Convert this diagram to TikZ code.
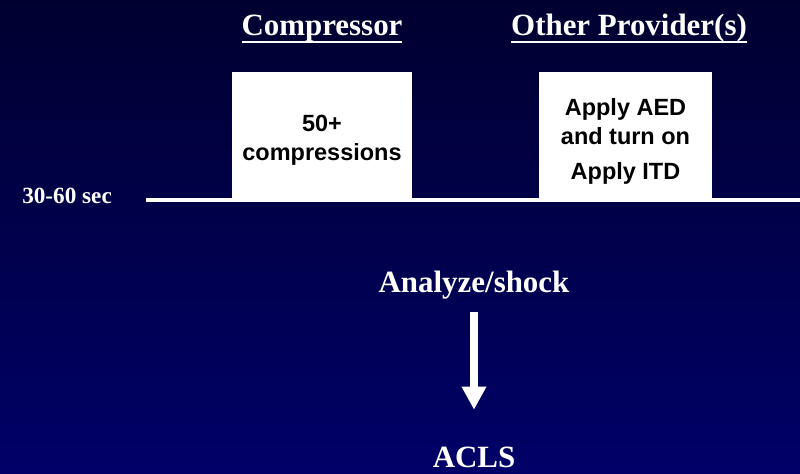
\documentclass[tikz,border=0pt]{standalone}
\usepackage{fontspec}
\setmainfont{Liberation Serif}
\newfontfamily\boxfont{Liberation Sans}
\usetikzlibrary{arrows.meta, positioning, calc}
\definecolor{bgtop}{HTML}{000030}
\definecolor{bgmid}{HTML}{000042}
\definecolor{bgbot}{HTML}{000068}
\definecolor{boxtext}{HTML}{000000}

\newcommand{\ulhead}[1]{\vtop{\hbox{#1}\kern-1.4pt\hrule height 1.9pt}}

\begin{document}
\begin{tikzpicture}[
    >=Stealth,
    every node/.style={text=white},
    heading/.style={font=\fontsize{22}{26}\selectfont\bfseries, anchor=base, inner sep=0pt},
    bigword/.style={font=\fontsize{22}{26}\selectfont\bfseries, inner sep=0pt},
    timetag/.style={font=\fontsize{16.5}{20}\selectfont\bfseries, anchor=base west, inner sep=0pt},
    taskbox/.style={
        rectangle, fill=white, draw=none,
        minimum height=3.15cm, inner sep=0pt
    },
    tasktext/.style={
        text=boxtext, align=center, inner sep=0pt,
        font=\boxfont\fontsize{16.7}{20.5}\selectfont\bfseries
    },
    timeline/.style={draw=white, line width=2.85pt},
    flowarrow/.style={draw=white, line width=5pt,
        -{Triangle[width=16.5pt, length=16.5pt]}},
]

%% ============ BACKGROUND ============
\shade[top color=bgtop, middle color=bgmid, bottom color=bgbot] (0,0) rectangle (20,11.825);
\useasboundingbox (0,0) rectangle (20,11.825);

%% ============ COLUMN HEADINGS ============
\node[heading] (hdcomp) at (8.05, 10.925) {\ulhead{Compressor}};
\node[heading] (hdother) at (15.725, 10.925) {\ulhead{Other Provider(s)}};

%% ============ TIMELINE + TASKS ============
\node[timetag] (tsec) at (0.55, 6.75) {30-60 sec};

\coordinate (tlstart) at (3.65, 6.825);
\coordinate (tlend) at (20, 6.825);
\draw[timeline] (tlstart) -- (tlend);

\node[taskbox, minimum width=4.5cm] (compbox) at (8.05, 8.45) {};
\node[tasktext] (comptext) at ([yshift=-3.5pt]compbox.center) {
    50+\\
    compressions
};

\node[taskbox, minimum width=4.325cm] (otherbox) at (15.6375, 8.45) {};
\node[tasktext] (othertext) at ([yshift=-4.5pt]otherbox.center) {
    Apply AED\\
    and turn on\\[4pt]
    Apply ITD
};

%% ============ NEXT STEPS ============
\node[bigword] (shock) at (11.85, 4.7) {Analyze/shock};
\node[bigword] (acls) at (11.85, 0.4) {ACLS};

% shock -> ACLS
\draw[flowarrow, shorten <=8.7pt, shorten >=26pt] (shock) -- (acls);

\end{tikzpicture}
\end{document}
